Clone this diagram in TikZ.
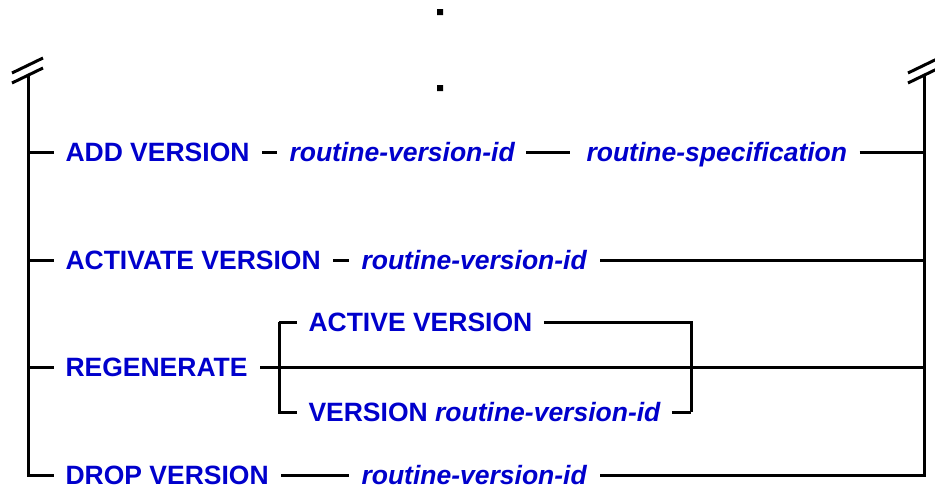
\documentclass[tikz,border=0pt]{standalone}
\usepackage{fontspec}
\setmainfont{Liberation Sans}
\definecolor{kwblue}{RGB}{0,0,204}
\begin{document}
\begin{tikzpicture}[x=1pt,y=-1pt,line width=3pt,
    node font=\fontsize{26.5}{30}\selectfont\bfseries,
    kw/.style={anchor=west,inner sep=0pt,text height=19pt,text depth=0pt,text=kwblue},
    var/.style={kw,font=\itshape},
    gap/.style={shorten <=11pt,shorten >=11pt}]
            \useasboundingbox (0,0) rectangle (935,493);
            % continuation dots
            \fill (437,9) rectangle (443,15) (437,85) rectangle (443,91);
            % rails
            \coordinate (ltop) at (28,75);
            \coordinate (lbot) at (28,475);
            \coordinate (rtop) at (924,75);
            \coordinate (rbot) at (924,475);
            \draw (12,73) -- (43,58) (12,83) -- (43,68);
            \draw (908,73) -- (939,58) (908,83) -- (939,68);
            % rows
            \node [kw] (add) at (64,152) {ADD VERSION};
            \node [var] (addid) at (288,152) {routine-version-id};
            \node [var] (addspec) at (585,152) {routine-specification};
            \node [kw] (act) at (64,260) {ACTIVATE VERSION};
            \node [var] (actid) at (360,260) {routine-version-id};
            \node [kw] (regen) at (64,367) {REGENERATE};
            \node [kw] (active) at (307,322) {ACTIVE VERSION};
            \node [kw] (verid) at (307,412) {VERSION \itshape routine-version-id};
            \node [kw] (drop) at (64,475) {DROP VERSION};
            \node [var] (dropid) at (360,475) {routine-version-id};
            % left rail and stubs
            \draw [shorten >=10pt] (ltop) -- (lbot) -- (drop.west);
            \foreach \n in {add,act,regen}
                \draw [shorten >=10pt] (ltop |- \n.west) -- (\n.west);
            % connectors
            \draw [gap] (add.east) -- (addid.west);
            \draw [gap,shorten >=15pt,shorten <=10pt] (addid.east) -- (addspec.west);
            \draw [gap] (act.east) -- (actid.west);
            \draw [gap] (drop.east) -- (dropid.west);
            \draw [shorten <=11pt] (addspec.east) -- (rtop |- addspec.east);
            \draw [shorten <=12pt] (actid.east) -- (rtop |- actid.east);
            \draw [shorten <=11pt] (regen.east) -- (rtop |- regen.east);
            \draw [shorten <=12pt] (dropid.east) -- (rbot) -- (rtop);
            % regenerate bracket
            \coordinate (btl) at (279,322);
            \coordinate (bbl) at (279,412);
            \coordinate (btr) at (691,322);
            \coordinate (bbr) at (691,412);
            \draw [shorten >=10pt] (btl) -- (bbl) -- (verid.west);
            \draw [shorten >=10pt] (btl) -- (active.west);
            \draw [shorten <=10pt] (active.east) -- (btr) -- (bbr);
            \draw [shorten <=10pt] (verid.east) -- (bbr);
        \end{tikzpicture}
\end{document}
